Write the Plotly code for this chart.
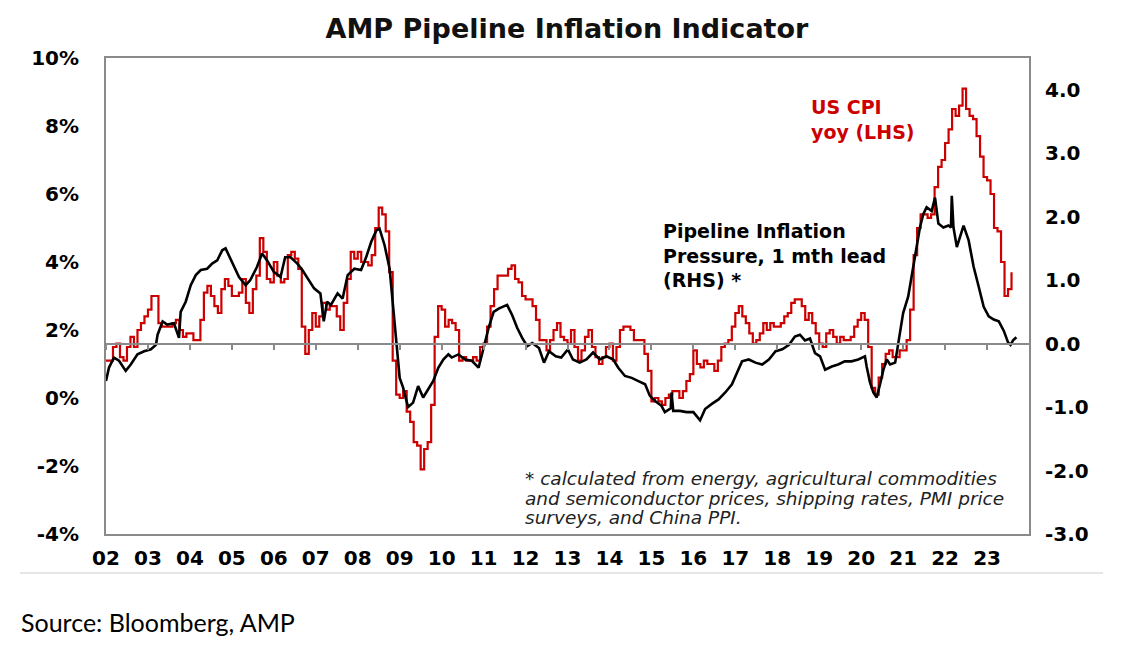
import plotly.graph_objects as go

# US CPI yoy %, monthly, Jan-2002 .. Aug-2023 (left axis)
cpi_years = list(range(2002, 2024))
cpi_by_year = [
    [1.1, 1.1, 1.5, 1.6, 1.2, 1.1, 1.5, 1.8, 1.5, 2.0, 2.2, 2.4],
    [2.6, 3.0, 3.0, 2.2, 2.1, 2.1, 2.1, 2.2, 2.3, 2.0, 1.8, 1.9],
    [1.9, 1.7, 1.7, 2.3, 3.1, 3.3, 3.0, 2.7, 2.5, 3.2, 3.5, 3.3],
    [3.0, 3.0, 3.1, 3.5, 2.8, 2.5, 3.2, 3.6, 4.7, 4.3, 3.5, 3.4],
    [4.0, 3.6, 3.4, 3.5, 4.2, 4.3, 4.1, 3.8, 2.1, 1.3, 2.0, 2.5],
    [2.1, 2.4, 2.8, 2.6, 2.7, 2.7, 2.4, 2.0, 2.8, 3.5, 4.3, 4.1],
    [4.3, 4.0, 4.0, 3.9, 4.2, 5.0, 5.6, 5.4, 4.9, 3.7, 1.1, 0.1],
    [0.0, 0.2, -0.4, -0.7, -1.3, -1.4, -2.1, -1.5, -1.3, -0.2, 1.8, 2.7],
    [2.6, 2.1, 2.3, 2.2, 2.0, 1.1, 1.2, 1.1, 1.1, 1.2, 1.1, 1.5],
    [1.6, 2.1, 2.7, 3.2, 3.6, 3.6, 3.6, 3.8, 3.9, 3.5, 3.4, 3.0],
    [2.9, 2.9, 2.7, 2.3, 1.7, 1.7, 1.4, 1.7, 2.0, 2.2, 1.8, 1.7],
    [1.6, 2.0, 1.5, 1.1, 1.4, 1.8, 2.0, 1.5, 1.2, 1.0, 1.2, 1.5],
    [1.6, 1.1, 1.5, 2.0, 2.1, 2.1, 2.0, 1.7, 1.7, 1.7, 1.3, 0.8],
    [-0.1, 0.0, -0.1, -0.2, 0.0, 0.1, 0.2, 0.2, 0.0, 0.2, 0.5, 0.7],
    [1.4, 1.0, 0.9, 1.1, 1.0, 1.0, 0.8, 1.1, 1.5, 1.6, 1.7, 2.1],
    [2.5, 2.7, 2.4, 2.2, 1.9, 1.6, 1.7, 1.9, 2.2, 2.0, 2.2, 2.1],
    [2.1, 2.2, 2.4, 2.5, 2.8, 2.9, 2.9, 2.7, 2.3, 2.5, 2.2, 1.9],
    [1.6, 1.5, 1.9, 2.0, 1.8, 1.6, 1.8, 1.7, 1.7, 1.8, 2.1, 2.3],
    [2.5, 2.3, 1.5, 0.3, 0.1, 0.6, 1.0, 1.3, 1.4, 1.2, 1.2, 1.4],
    [1.4, 1.7, 2.6, 4.2, 5.0, 5.4, 5.4, 5.3, 5.4, 6.2, 6.8, 7.0],
    [7.5, 7.9, 8.5, 8.3, 8.6, 9.1, 8.5, 8.3, 8.2, 7.7, 7.1, 6.5],
    [6.4, 6.0, 5.0, 4.9, 4.0, 3.0, 3.2, 3.7],
]

# pipeline inflation pressure (RHS)
pipe_t = [
    2002.00, 2002.07, 2002.19, 2002.31, 2002.47, 2002.59, 2002.75, 2002.91,
    2003.07, 2003.19, 2003.23, 2003.35, 2003.46, 2003.62, 2003.74, 2003.78,
    2003.90, 2004.02, 2004.14, 2004.26, 2004.41, 2004.53, 2004.65, 2004.77,
    2004.85, 2004.93, 2005.05, 2005.17, 2005.33, 2005.44, 2005.60, 2005.72,
    2005.84, 2006.00, 2006.16, 2006.27, 2006.40, 2006.56, 2006.68, 2006.84,
    2006.96, 2007.11, 2007.19, 2007.27, 2007.36, 2007.52, 2007.64, 2007.76,
    2007.92, 2008.08, 2008.20, 2008.32, 2008.44, 2008.52, 2008.64, 2008.76,
    2008.84, 2008.92, 2009.00, 2009.08, 2009.20, 2009.32, 2009.44, 2009.56,
    2009.68, 2009.80, 2009.92, 2010.04, 2010.16, 2010.24, 2010.40, 2010.56,
    2010.72, 2010.88, 2011.00, 2011.12, 2011.24, 2011.36, 2011.56, 2011.68,
    2011.80, 2011.92, 2012.04, 2012.16, 2012.32, 2012.44, 2012.56, 2012.72,
    2012.85, 2013.01, 2013.13, 2013.29, 2013.45, 2013.61, 2013.77, 2013.93,
    2014.09, 2014.21, 2014.37, 2014.53, 2014.69, 2014.85, 2014.96, 2015.08,
    2015.24, 2015.32, 2015.46, 2015.48, 2015.52, 2015.68, 2015.84, 2016.00,
    2016.16, 2016.28, 2016.44, 2016.60, 2016.76, 2016.92, 2017.04, 2017.16,
    2017.32, 2017.48, 2017.64, 2017.80, 2017.96, 2018.12, 2018.28, 2018.42,
    2018.54, 2018.66, 2018.78, 2018.90, 2019.02, 2019.14, 2019.30, 2019.45,
    2019.61, 2019.77, 2019.93, 2020.09, 2020.13, 2020.21, 2020.29, 2020.37,
    2020.45, 2020.53, 2020.61, 2020.69, 2020.81, 2020.89, 2021.00, 2021.12,
    2021.24, 2021.32, 2021.40, 2021.48, 2021.56, 2021.68, 2021.76, 2021.84,
    2021.96, 2022.08, 2022.14, 2022.16, 2022.20, 2022.28, 2022.36, 2022.44,
    2022.56, 2022.68, 2022.80, 2022.92, 2023.04, 2023.16, 2023.28, 2023.40,
    2023.50, 2023.56, 2023.62, 2023.70,
]
pipe_v = [
    -0.59, -0.38, -0.22, -0.27, -0.43, -0.33, -0.17, -0.12,
    -0.09, -0.02, 0.14, 0.35, 0.30, 0.32, 0.09, 0.50,
    0.66, 0.92, 1.08, 1.16, 1.18, 1.26, 1.31, 1.47,
    1.50, 1.39, 1.21, 1.05, 0.92, 1.00, 1.21, 1.42,
    1.31, 1.13, 1.05, 1.36, 1.36, 1.26, 1.16, 1.00,
    0.87, 0.79, 0.35, 0.66, 0.61, 0.79, 0.71, 1.08,
    1.18, 1.16, 1.36, 1.60, 1.78, 1.81, 1.55, 1.18,
    0.61, 0.14, -0.54, -0.69, -1.00, -0.93, -0.67, -0.85,
    -0.72, -0.59, -0.38, -0.25, -0.17, -0.22, -0.17, -0.25,
    -0.27, -0.38, -0.07, 0.25, 0.50, 0.55, 0.61, 0.45,
    0.25, 0.09, -0.04, 0.01, -0.07, -0.30, -0.12, -0.20,
    -0.22, -0.09, -0.25, -0.30, -0.25, -0.14, -0.25, -0.20,
    -0.25, -0.38, -0.51, -0.54, -0.59, -0.64, -0.82, -0.90,
    -0.98, -1.08, -1.02, -0.77, -1.06, -1.06, -1.08, -1.08,
    -1.21, -1.03, -0.95, -0.88, -0.77, -0.64, -0.46, -0.28,
    -0.25, -0.30, -0.33, -0.25, -0.12, -0.09, -0.02, 0.11,
    0.14, 0.05, 0.08, -0.15, -0.20, -0.41, -0.36, -0.33,
    -0.28, -0.28, -0.25, -0.20, -0.36, -0.61, -0.77, -0.85,
    -0.64, -0.41, -0.25, -0.33, -0.30, 0.00, 0.48, 0.74,
    1.21, 1.52, 1.83, 2.04, 2.15, 2.09, 2.30, 1.89,
    1.83, 1.86, 1.83, 2.33, 1.83, 1.52, 1.68, 1.86,
    1.63, 1.21, 0.90, 0.58, 0.43, 0.38, 0.35, 0.20,
    0.02, -0.02, 0.05, 0.10,
]

x_ticks = list(range(2002, 2024))
x_labels = ["%02d" % (y % 100) for y in x_ticks]
left_ticks = [-4, -2, 0, 2, 4, 6, 8, 10]
left_labels = ["-4%", "-2%", "0%", "2%", "4%", "6%", "8%", "10%"]
right_ticks = [-3, -2, -1, 0, 1, 2, 3, 4]
right_labels = ["-3.0", "-2.0", "-1.0", "0.0", "1.0", "2.0", "3.0", "4.0"]
footnote = [
    "* calculated from energy, agricultural commodities",
    "and semiconductor prices, shipping rates, PMI price",
    "surveys, and China PPI.",
]

LEFT_RANGE = [-4, 10]
RIGHT_RANGE = [-3, 4.5]
X_RANGE = [2002, 2024]

RED = "#cc0000"
GREY = "#8a8a8a"
FONT = "DejaVu Sans"

# page puts the plot 8px in from the top-left corner
W, H = 1114, 644
PL, PT, PW, PH = 98, 50, 923, 476


def px(x):  # page pixel -> paper x
    return (x - 8 - PL) / PW


def py(y):  # page pixel -> paper y
    return (PT + PH - (y - 8)) / PH


cpi_x, cpi_y = [], []
for yr, vals in zip(cpi_years, cpi_by_year):
    for m, v in enumerate(vals):
        cpi_x.append(yr + m / 12.0)
        cpi_y.append(v)

fig = go.Figure()

fig.add_trace(go.Scatter(
    x=cpi_x, y=cpi_y, name="US CPI yoy (LHS)",
    mode="lines", line=dict(color=RED, width=2.2, shape="hv"),
    xaxis="x", yaxis="y"))

fig.add_trace(go.Scatter(
    x=pipe_t, y=pipe_v, name="Pipeline Inflation Pressure (RHS)",
    mode="lines", line=dict(color="black", width=2.6),
    xaxis="x2", yaxis="y2"))

tickfont = dict(family=FONT, size=20, color="black", weight="bold")
zero_pos = (0 - RIGHT_RANGE[0]) / (RIGHT_RANGE[1] - RIGHT_RANGE[0])

fig.update_layout(
    width=W, height=H,
    margin=dict(l=PL, r=W - PL - PW, t=PT, b=H - PT - PH),
    paper_bgcolor="white", plot_bgcolor="white",
    showlegend=False,
    title=dict(text="AMP Pipeline Inflation Indicator",
               font=dict(family=FONT, size=27, color="#111", weight="bold"),
               x=px(567), xref="paper", xanchor="center",
               y=1 - (29 - 8) / H, yref="container", yanchor="middle"),
    xaxis=dict(range=X_RANGE, tickvals=x_ticks, ticktext=x_labels,
               tickfont=tickfont, ticks="", ticklabelstandoff=5,
               showgrid=False, zeroline=False,
               showline=True, linecolor=GREY, linewidth=2, mirror=True),
    yaxis=dict(range=LEFT_RANGE, tickvals=left_ticks, ticktext=left_labels,
               tickfont=tickfont, ticks="", ticklabelstandoff=21,
               showgrid=False, zeroline=False,
               showline=True, linecolor=GREY, linewidth=2, mirror=True),
    xaxis2=dict(range=X_RANGE, overlaying="x", anchor="free", position=zero_pos,
                tickvals=x_ticks, showticklabels=False,
                ticks="outside", ticklen=6, tickwidth=1.5, tickcolor=GREY,
                showline=True, linecolor=GREY, linewidth=1.5,
                showgrid=False, zeroline=False),
    yaxis2=dict(range=RIGHT_RANGE, overlaying="y", side="right", anchor="x",
                tickvals=right_ticks, ticktext=right_labels,
                tickfont=tickfont, ticks="", ticklabelstandoff=15,
                showgrid=False, zeroline=False, showline=False),
)

fig.add_annotation(
    text="<b>US CPI<br>yoy (LHS)</b>", xref="paper", yref="paper",
    x=px(809), y=py(119.5), xanchor="left", yanchor="middle", align="left",
    showarrow=False, font=dict(family=FONT, size=19, color=RED))

fig.add_annotation(
    text="<b>Pipeline Inflation<br>Pressure, 1 mth lead<br>(RHS) *</b>",
    xref="paper", yref="paper",
    x=px(661), y=py(256), xanchor="left", yanchor="middle", align="left",
    showarrow=False, font=dict(family=FONT, size=19, color="black"))

for line, ypix in zip(footnote, [478, 498, 517]):
    fig.add_annotation(
        text="<i>" + line + "</i>", xref="paper", yref="paper",
        x=px(523), y=py(ypix), xanchor="left", yanchor="middle", align="left",
        showarrow=False, font=dict(family=FONT, size=18.5, color="#222"))

fig.add_annotation(
    text="Source: Bloomberg, AMP", xref="paper", yref="paper",
    x=px(19), y=py(622), xanchor="left", yanchor="middle",
    showarrow=False, font=dict(family="Lato", size=25, color="black"))

# thin separator under the chart
fig.add_shape(type="line", xref="paper", yref="paper",
              x0=px(20), x1=px(1103), y0=py(573), y1=py(573),
              line=dict(color="#e6e6e6", width=2))

fig.write_html("out.html")
